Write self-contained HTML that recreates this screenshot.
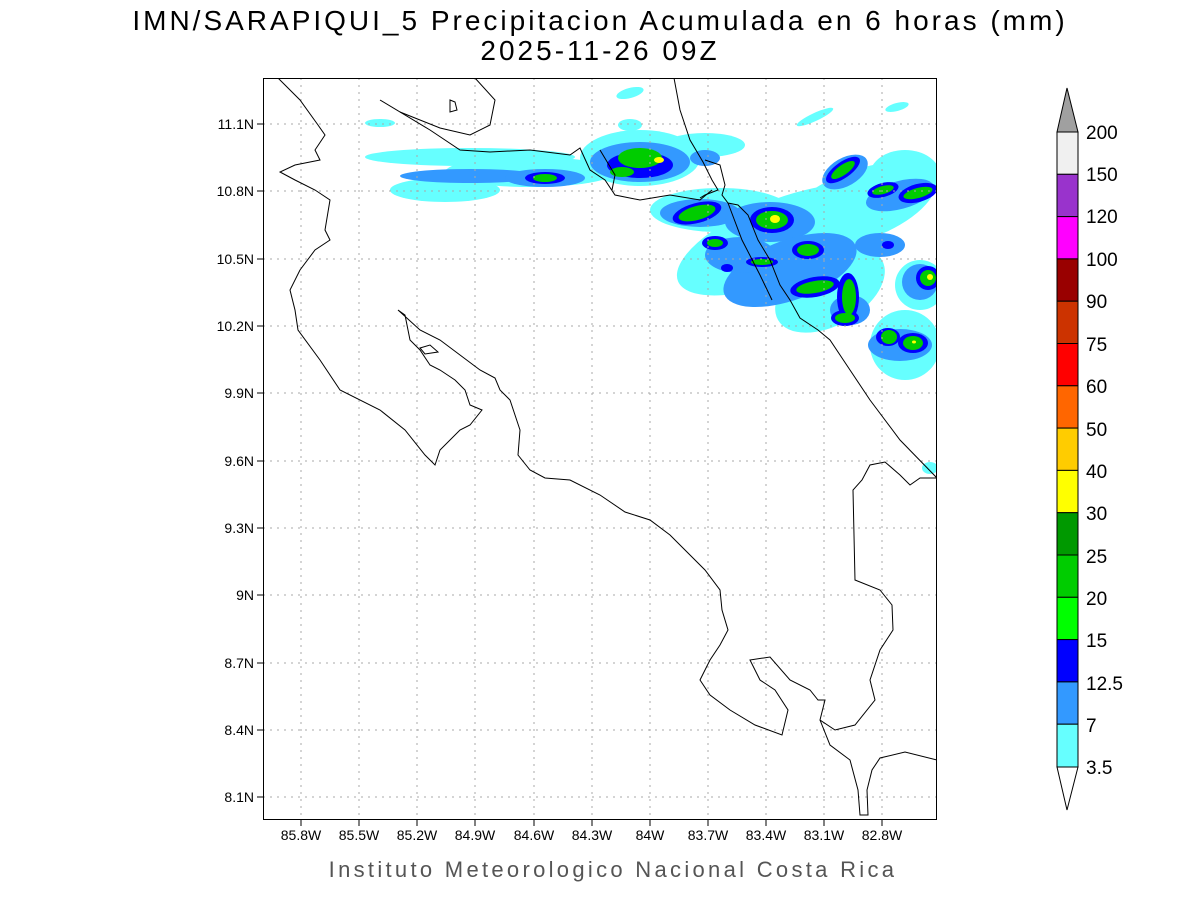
<!DOCTYPE html>
<html><head><meta charset="utf-8"><style>
body{margin:0;background:#fff;}
svg{display:block;font-family:"Liberation Sans",sans-serif;}
</style></head><body>
<svg width="1200" height="900" viewBox="0 0 1200 900" xmlns="http://www.w3.org/2000/svg">
<rect width="1200" height="900" fill="#fff"/>
<text x="600" y="30" font-size="28" text-anchor="middle" fill="#000" letter-spacing="3" font-weight="300">IMN/SARAPIQUI_5 Precipitacion Acumulada en 6 horas (mm)</text>
<text x="600" y="60" font-size="28" text-anchor="middle" fill="#000" letter-spacing="3">2025-11-26 09Z</text>
<defs><clipPath id="c"><rect x="263" y="78" width="674" height="742"/></clipPath></defs>
<g clip-path="url(#c)">
<g fill="#66ffff">
<ellipse cx="470" cy="157" rx="105" ry="9"/>
<ellipse cx="530" cy="172" rx="85" ry="15"/>
<ellipse cx="445" cy="190" rx="55" ry="12"/>
<ellipse cx="640" cy="158" rx="60" ry="28"/>
<ellipse cx="705" cy="145" rx="40" ry="12"/>
<ellipse cx="720" cy="210" rx="70" ry="22"/>
<ellipse cx="780" cy="240" rx="110" ry="40" transform="rotate(-22 780 240)"/>
<ellipse cx="860" cy="205" rx="80" ry="35" transform="rotate(-20 860 205)"/>
<ellipse cx="905" cy="175" rx="35" ry="25"/>
<ellipse cx="830" cy="290" rx="60" ry="35" transform="rotate(-30 830 290)"/>
<ellipse cx="905" cy="345" rx="35" ry="35"/>
<ellipse cx="920" cy="285" rx="25" ry="25"/>
<ellipse cx="630" cy="93" rx="14" ry="5" transform="rotate(-15 630 93)"/>
<ellipse cx="630" cy="125" rx="12" ry="6"/>
<ellipse cx="815" cy="117" rx="20" ry="4" transform="rotate(-25 815 117)"/>
<ellipse cx="897" cy="107" rx="12" ry="4" transform="rotate(-15 897 107)"/>
<ellipse cx="380" cy="123" rx="15" ry="4"/>
<ellipse cx="930" cy="468" rx="8" ry="6"/>
</g>
<g fill="#3399ff">
<ellipse cx="470" cy="176" rx="70" ry="7"/>
<ellipse cx="545" cy="178" rx="40" ry="9"/>
<ellipse cx="640" cy="162" rx="50" ry="20"/>
<ellipse cx="705" cy="158" rx="15" ry="8"/>
<ellipse cx="700" cy="213" rx="40" ry="14"/>
<ellipse cx="770" cy="222" rx="45" ry="20"/>
<ellipse cx="845" cy="172" rx="25" ry="14" transform="rotate(-30 845 172)"/>
<ellipse cx="900" cy="195" rx="35" ry="14" transform="rotate(-15 900 195)"/>
<ellipse cx="790" cy="270" rx="70" ry="30" transform="rotate(-20 790 270)"/>
<ellipse cx="740" cy="255" rx="35" ry="18"/>
<ellipse cx="880" cy="245" rx="25" ry="12"/>
<ellipse cx="920" cy="282" rx="18" ry="18"/>
<ellipse cx="900" cy="345" rx="32" ry="16"/>
<ellipse cx="850" cy="310" rx="20" ry="15"/>
</g>
<g fill="#0000ff">
<ellipse cx="640" cy="165" rx="33" ry="13"/>
<ellipse cx="545" cy="178" rx="20" ry="6"/>
<ellipse cx="697" cy="213" rx="25" ry="10" transform="rotate(-15 697 213)"/>
<ellipse cx="772" cy="220" rx="22" ry="13"/>
<ellipse cx="843" cy="170" rx="20" ry="8" transform="rotate(-35 843 170)"/>
<ellipse cx="883" cy="190" rx="16" ry="7" transform="rotate(-15 883 190)"/>
<ellipse cx="918" cy="193" rx="20" ry="9" transform="rotate(-15 918 193)"/>
<ellipse cx="715" cy="243" rx="13" ry="7"/>
<ellipse cx="808" cy="250" rx="16" ry="9"/>
<ellipse cx="762" cy="262" rx="16" ry="5"/>
<ellipse cx="727" cy="268" rx="6" ry="4"/>
<ellipse cx="815" cy="287" rx="25" ry="10" transform="rotate(-10 815 287)"/>
<ellipse cx="848" cy="297" rx="11" ry="24"/>
<ellipse cx="845" cy="318" rx="14" ry="8"/>
<ellipse cx="928" cy="278" rx="12" ry="12"/>
<ellipse cx="888" cy="337" rx="12" ry="9"/>
<ellipse cx="913" cy="343" rx="15" ry="10"/>
<ellipse cx="888" cy="245" rx="6" ry="4"/>
</g>
<g fill="#00cc00">
<ellipse cx="640" cy="158" rx="22" ry="10"/>
<ellipse cx="622" cy="172" rx="12" ry="5"/>
<ellipse cx="545" cy="178" rx="12" ry="4"/>
<ellipse cx="697" cy="213" rx="19" ry="7" transform="rotate(-15 697 213)"/>
<ellipse cx="772" cy="220" rx="16" ry="9"/>
<ellipse cx="843" cy="170" rx="14" ry="5" transform="rotate(-35 843 170)"/>
<ellipse cx="883" cy="190" rx="11" ry="4" transform="rotate(-15 883 190)"/>
<ellipse cx="918" cy="193" rx="15" ry="5" transform="rotate(-15 918 193)"/>
<ellipse cx="715" cy="243" rx="8" ry="4"/>
<ellipse cx="808" cy="250" rx="11" ry="6"/>
<ellipse cx="762" cy="262" rx="11" ry="3"/>
<ellipse cx="815" cy="287" rx="19" ry="6" transform="rotate(-10 815 287)"/>
<ellipse cx="849" cy="297" rx="7" ry="18"/>
<ellipse cx="845" cy="318" rx="10" ry="5"/>
<ellipse cx="928" cy="278" rx="8" ry="8"/>
<ellipse cx="913" cy="343" rx="10" ry="7"/>
<ellipse cx="889" cy="337" rx="8" ry="7"/>
</g>
<ellipse cx="659" cy="160" rx="5" ry="3" fill="#ffff00"/>
<ellipse cx="775" cy="219" rx="5" ry="4" fill="#ffff00"/>
<ellipse cx="930" cy="277" rx="3" ry="3" fill="#ffff00"/>
<ellipse cx="914" cy="342" rx="2" ry="1.5" fill="#ffff00"/>
</g>
<g stroke="#aaa" stroke-width="1" stroke-dasharray="2,5">
<line x1="301" y1="78" x2="301" y2="820"/><line x1="359" y1="78" x2="359" y2="820"/><line x1="417" y1="78" x2="417" y2="820"/><line x1="475" y1="78" x2="475" y2="820"/><line x1="534" y1="78" x2="534" y2="820"/><line x1="592" y1="78" x2="592" y2="820"/><line x1="650" y1="78" x2="650" y2="820"/><line x1="708" y1="78" x2="708" y2="820"/><line x1="766" y1="78" x2="766" y2="820"/><line x1="824" y1="78" x2="824" y2="820"/><line x1="882" y1="78" x2="882" y2="820"/>
<line x1="263" y1="124" x2="937" y2="124"/><line x1="263" y1="191" x2="937" y2="191"/><line x1="263" y1="259" x2="937" y2="259"/><line x1="263" y1="326" x2="937" y2="326"/><line x1="263" y1="393" x2="937" y2="393"/><line x1="263" y1="461" x2="937" y2="461"/><line x1="263" y1="528" x2="937" y2="528"/><line x1="263" y1="595" x2="937" y2="595"/><line x1="263" y1="663" x2="937" y2="663"/><line x1="263" y1="730" x2="937" y2="730"/><line x1="263" y1="797" x2="937" y2="797"/>
</g>
<g clip-path="url(#c)" fill="none" stroke="#000" stroke-width="1">
<polyline points="278,78 300,100 318,125 325,135 315,150 320,160 295,165 280,172 295,180 315,190 330,200 325,230 330,240 315,250 300,270 290,290 295,310 298,330 320,360 340,390 380,410 405,430 425,455 435,465 440,450 460,430 470,425 482,410 470,405 465,390 455,380 440,370 430,365 420,350 410,340 405,315 398,310 420,330 440,340 460,355 480,370 495,378 500,390 510,400 520,430 518,455 530,470 545,478 570,480 600,495 625,512 650,520 670,535 690,555 705,570 720,590 722,610 728,630 720,645 710,660 700,680 710,695 730,710 755,725 782,735 788,710 775,690 760,680 750,660 770,657 790,680 810,690 818,700 825,700 820,720 835,730 855,725 875,700 870,680 880,650 893,630 892,605 880,590 855,580 853,490 862,480 870,465 885,462 900,475 910,485 920,478 937,478"/>
<polyline points="937,478 900,440 870,400 850,370 830,340 818,330 800,318 790,300 780,285 770,260 758,240 748,215 738,205 728,203 722,195 725,185 720,165 705,160"/>
<polyline points="674,78 680,110 690,140 703,162 712,180 718,190 705,195 700,198"/>
<polyline points="380,100 430,130 460,150 490,152 530,150 570,155 580,148 590,170 605,180 615,195 640,200 670,195 700,200 712,190"/>
<polyline points="475,78 495,100 490,125 470,135 440,128 415,118 400,112"/>
<polyline points="600,150 615,175 612,190"/>
<polyline points="728,203 742,240 760,275 772,300"/>
<polyline points="820,720 830,745 850,760 858,790 860,815 868,815 867,790 872,770 880,758 905,752 937,760"/>
<polygon points="450,100 455,102 457,110 450,112"/>
<polygon points="420,348 430,345 438,352 425,354"/>
</g>
<rect x="263.5" y="78.5" width="673" height="741" fill="none" stroke="#000"/>
<g stroke="#000">
<line x1="301" y1="820" x2="301" y2="826"/><line x1="359" y1="820" x2="359" y2="826"/><line x1="417" y1="820" x2="417" y2="826"/><line x1="475" y1="820" x2="475" y2="826"/><line x1="534" y1="820" x2="534" y2="826"/><line x1="592" y1="820" x2="592" y2="826"/><line x1="650" y1="820" x2="650" y2="826"/><line x1="708" y1="820" x2="708" y2="826"/><line x1="766" y1="820" x2="766" y2="826"/><line x1="824" y1="820" x2="824" y2="826"/><line x1="882" y1="820" x2="882" y2="826"/>
<line x1="257" y1="124" x2="263" y2="124"/><line x1="257" y1="191" x2="263" y2="191"/><line x1="257" y1="259" x2="263" y2="259"/><line x1="257" y1="326" x2="263" y2="326"/><line x1="257" y1="393" x2="263" y2="393"/><line x1="257" y1="461" x2="263" y2="461"/><line x1="257" y1="528" x2="263" y2="528"/><line x1="257" y1="595" x2="263" y2="595"/><line x1="257" y1="663" x2="263" y2="663"/><line x1="257" y1="730" x2="263" y2="730"/><line x1="257" y1="797" x2="263" y2="797"/>
</g>
<g font-size="14" fill="#000">
<g text-anchor="end">
<text x="254" y="129">11.1N</text><text x="254" y="196">10.8N</text><text x="254" y="264">10.5N</text><text x="254" y="331">10.2N</text><text x="254" y="398">9.9N</text><text x="254" y="466">9.6N</text><text x="254" y="533">9.3N</text><text x="254" y="600">9N</text><text x="254" y="668">8.7N</text><text x="254" y="735">8.4N</text><text x="254" y="802">8.1N</text>
</g>
<g text-anchor="middle">
<text x="301" y="840">85.8W</text><text x="359" y="840">85.5W</text><text x="417" y="840">85.2W</text><text x="475" y="840">84.9W</text><text x="534" y="840">84.6W</text><text x="592" y="840">84.3W</text><text x="650" y="840">84W</text><text x="708" y="840">83.7W</text><text x="766" y="840">83.4W</text><text x="824" y="840">83.1W</text><text x="882" y="840">82.8W</text>
</g>
</g>
<text x="613" y="877" font-size="22" text-anchor="middle" fill="#555" letter-spacing="3.3">Instituto Meteorologico Nacional Costa Rica</text>
<g stroke="#000" stroke-width="1">
<polygon points="1067,88 1078,132 1057,132" fill="#a0a0a0"/>
<rect x="1057" y="132" width="21" height="42.3" fill="#f0f0f0"/>
<rect x="1057" y="174.3" width="21" height="42.3" fill="#9933cc"/>
<rect x="1057" y="216.6" width="21" height="42.3" fill="#ff00ff"/>
<rect x="1057" y="258.9" width="21" height="42.3" fill="#990000"/>
<rect x="1057" y="301.2" width="21" height="42.3" fill="#cc3300"/>
<rect x="1057" y="343.5" width="21" height="42.3" fill="#ff0000"/>
<rect x="1057" y="385.8" width="21" height="42.3" fill="#ff6600"/>
<rect x="1057" y="428.1" width="21" height="42.3" fill="#ffcc00"/>
<rect x="1057" y="470.4" width="21" height="42.3" fill="#ffff00"/>
<rect x="1057" y="512.7" width="21" height="42.3" fill="#009900"/>
<rect x="1057" y="555" width="21" height="42.3" fill="#00cc00"/>
<rect x="1057" y="597.3" width="21" height="42.3" fill="#00ff00"/>
<rect x="1057" y="639.6" width="21" height="42.3" fill="#0000ff"/>
<rect x="1057" y="681.9" width="21" height="42.3" fill="#3399ff"/>
<rect x="1057" y="724.2" width="21" height="42.8" fill="#66ffff"/>
<polygon points="1057,767 1078,767 1067,810" fill="#fff"/>
</g>
<g font-size="19" fill="#000">
<text x="1086" y="139">200</text><text x="1086" y="181">150</text><text x="1086" y="223">120</text><text x="1086" y="266">100</text><text x="1086" y="308">90</text><text x="1086" y="351">75</text><text x="1086" y="393">60</text><text x="1086" y="436">50</text><text x="1086" y="478">40</text><text x="1086" y="520">30</text><text x="1086" y="563">25</text><text x="1086" y="605">20</text><text x="1086" y="647">15</text><text x="1086" y="690">12.5</text><text x="1086" y="732">7</text><text x="1086" y="774">3.5</text>
</g>
</svg>
</body></html>
